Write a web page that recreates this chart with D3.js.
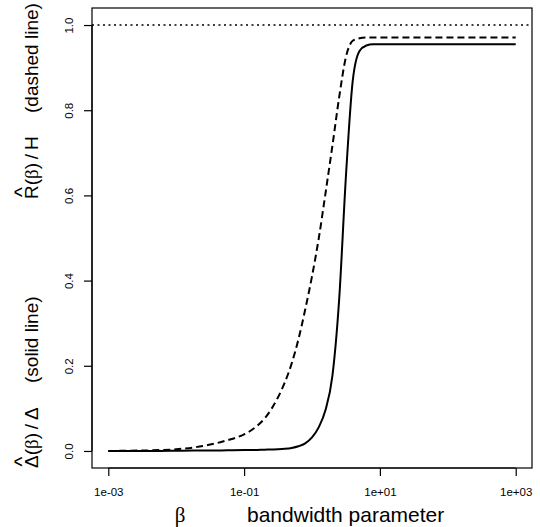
<!DOCTYPE html>
<html>
<head>
<meta charset="utf-8">
<script src="https://cdn.jsdelivr.net/npm/d3@7"></script>
<style>
  body { margin: 0; background: #fff; }
  svg { display: block; }
  text { font-family: "Liberation Sans", Arial, sans-serif; fill: #000; }
</style>
</head>
<body>
<svg id="chart" width="540" height="527"></svg>
<script>
// bandwidth parameter values (log spaced)
var betas = [0.001, 0.00178, 0.00316, 0.00562, 0.01, 0.0178, 0.0316, 0.0562,
  0.1, 0.126, 0.158, 0.2, 0.251, 0.316, 0.398, 0.501, 0.631, 0.794,
  1, 1.26, 1.58, 2, 2.51, 3.16, 3.98, 5.01, 6.31, 7.94,
  10, 31.6, 100, 316, 1000]

// solid line: Delta-hat(beta)/Delta
var deltaRatio = [0, 0, 0, 0, 0.0005, 0.001, 0.001, 0.0015,
  0.002, 0.002, 0.0025, 0.003, 0.0035, 0.004, 0.005, 0.007, 0.011, 0.018,
  0.032, 0.056, 0.096, 0.177, 0.355, 0.645, 0.869, 0.939, 0.952, 0.955,
  0.955, 0.955, 0.955, 0.955, 0.955]

// dashed line: R-hat(beta)/H
var rRatio = [0, 0.0005, 0.001, 0.002, 0.004, 0.008, 0.015, 0.025,
  0.039, 0.048, 0.06, 0.076, 0.098, 0.126, 0.161, 0.205, 0.262, 0.332,
  0.41, 0.5, 0.605, 0.717, 0.83, 0.925, 0.963, 0.969, 0.971, 0.971,
  0.971, 0.971, 0.971, 0.971, 0.971]

var xTicks = [1e-3, 1e-1, 1e1, 1e3]
var xTickLabels = ['1e-03', '1e-01', '1e+01', '1e+03']
var yTicks = [0, 0.2, 0.4, 0.6, 0.8, 1.0]
var refLevel = [1]

var LEFT = 92, RIGHT = 532, TOP = 8, BOTTOM = 468

var svg = d3.select('#chart')

// R style: usr range padded by 4% on each side
var lx = [-3, 3], pad = (lx[1] - lx[0]) * 0.04
var x = d3.scaleLog().domain([Math.pow(10, lx[0] - pad), Math.pow(10, lx[1] + pad)]).range([LEFT, RIGHT])
var y = d3.scaleLinear().domain([-0.04, 1.04]).range([BOTTOM, TOP])

function series (vals) {
  return betas.map(function (b, i) { return { b: b, v: vals[i] } })
}

var line = d3.line()
  .x(function (d) { return x(d.b) })
  .y(function (d) { return y(d.v) })
  .curve(d3.curveMonotoneX)

var plot = svg.append('g')

// reference line at 1
plot.selectAll('line.ref')
  .data(refLevel)
  .join('line')
  .attr('class', 'ref')
  .attr('x1', LEFT).attr('x2', RIGHT)
  .attr('y1', function (d) { return y(d) }).attr('y2', function (d) { return y(d) })
  .attr('stroke', '#000')
  .attr('stroke-width', 1.5)
  .attr('stroke-dasharray', '2 3.5')

plot.append('path')
  .datum(series(rRatio))
  .attr('d', line)
  .attr('fill', 'none')
  .attr('stroke', '#000')
  .attr('stroke-width', 2)
  .attr('stroke-dasharray', '7 4')

plot.append('path')
  .datum(series(deltaRatio))
  .attr('d', line)
  .attr('fill', 'none')
  .attr('stroke', '#000')
  .attr('stroke-width', 2)

// box
svg.append('rect')
  .attr('x', LEFT).attr('y', TOP)
  .attr('width', RIGHT - LEFT).attr('height', BOTTOM - TOP)
  .attr('fill', 'none')
  .attr('stroke', '#000')
  .attr('stroke-width', 1.2)

// x axis
var xAxis = d3.axisBottom(x)
  .tickValues(xTicks)
  .tickFormat(function (d, i) { return xTickLabels[i] })
  .tickSize(8)
  .tickPadding(12)
svg.append('g')
  .attr('transform', 'translate(0,' + BOTTOM + ')')
  .call(xAxis)
  .call(function (g) {
    g.select('.domain').attr('d', 'M' + x(xTicks[0]) + ',0H' + x(xTicks[xTicks.length - 1])).attr('stroke-width', 1.2)
    g.selectAll('.tick line').attr('stroke-width', 1.2)
    g.selectAll('text').attr('font-size', 11.5).attr('font-family', 'Liberation Sans, Arial, sans-serif')
  })

// y axis, labels rotated like R's default las=0
var yAxis = d3.axisLeft(y)
  .tickValues(yTicks)
  .tickFormat(d3.format('.1f'))
  .tickSize(8)
svg.append('g')
  .attr('transform', 'translate(' + LEFT + ',0)')
  .call(yAxis)
  .call(function (g) {
    g.select('.domain').attr('d', 'M0,' + y(yTicks[0]) + 'V' + y(yTicks[yTicks.length - 1])).attr('stroke-width', 1.2)
    g.selectAll('.tick line').attr('stroke-width', 1.2)
    g.selectAll('text')
      .attr('x', null).attr('dy', null)
      .attr('font-size', 11.5)
      .attr('font-family', 'Liberation Sans, Arial, sans-serif')
      .attr('text-anchor', 'middle')
      .attr('transform', 'translate(-19,0) rotate(-90)')
  })

// x label
svg.append('text')
  .attr('x', 180).attr('y', 522)
  .attr('text-anchor', 'middle')
  .attr('font-size', 21)
  .style('font-family', 'Liberation Serif, serif')
  .text('β')
svg.append('text')
  .attr('x', 247).attr('y', 522)
  .attr('font-size', 21)
  .text('bandwidth parameter')

// y label, built in pieces along the rotated axis
var ylab = svg.append('g').attr('transform', 'rotate(-90)')
var BASE = 38
var FS = 19

function hatted (startY, first, rest) {
  var t = ylab.append('text')
    .attr('x', -startY).attr('y', BASE)
    .attr('font-size', FS)
  t.append('tspan').text(first)
  t.append('tspan').text('(')
  t.append('tspan').style('font-family', 'Liberation Serif, serif').text('β')
  t.append('tspan').text(rest)
  var w = t.node().getSubStringLength(0, 1)
  ylab.append('text')
    .attr('x', -startY + w / 2).attr('y', BASE - 9)
    .attr('text-anchor', 'middle')
    .attr('font-size', FS + 2)
    .text('^')
}

hatted(468, 'Δ', ')\u2009/\u2009Δ')
ylab.append('text').attr('x', -383).attr('y', BASE).attr('font-size', FS).text('(solid line)')
hatted(199, 'R', ')\u2009/\u2009H')
ylab.append('text').attr('x', -113).attr('y', BASE).attr('font-size', FS).text('(dashed line)')
</script>
</body>
</html>
